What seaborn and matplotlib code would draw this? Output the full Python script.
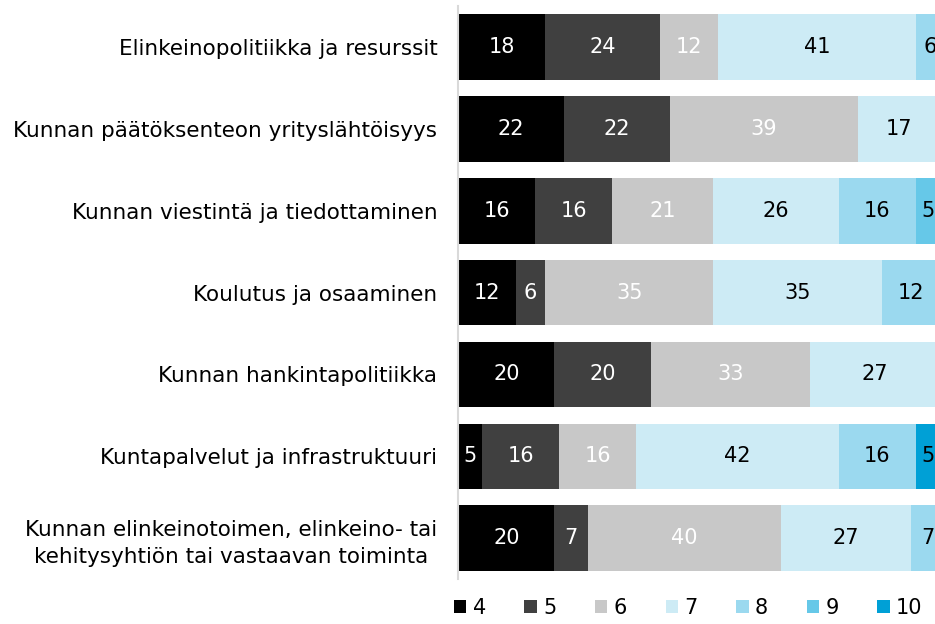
import pandas as pd
import matplotlib.pyplot as plt
import seaborn as sns
from matplotlib.patches import Patch

sns.set_theme(style='white')
plt.rcParams['font.family'] = ['DejaVu Sans']

# Data
rows = [
    'Elinkeinopolitiikka ja resurssit',
    'Kunnan päätöksenteon yrityslähtöisyys',
    'Kunnan viestintä ja tiedottaminen',
    'Koulutus ja osaaminen',
    'Kunnan hankintapolitiikka',
    'Kuntapalvelut ja infrastruktuuri',
    'Kunnan elinkeinotoimen, elinkeino- tai\nkehitysyhtiön tai vastaavan toiminta',
]
scores = ['4', '5', '6', '7', '8', '9', '10']
v4 = [18, 22, 16, 12, 20, 5, 20]
v5 = [24, 22, 16, 6, 20, 16, 7]
v6 = [12, 39, 21, 35, 33, 16, 40]
v7 = [41, 17, 26, 35, 27, 42, 27]
v8 = [6, 0, 16, 12, 0, 16, 7]
v9 = [0, 0, 5, 0, 0, 0, 0]
v10 = [0, 0, 0, 0, 0, 5, 0]
colors = ['#000000', '#404040', '#c8c8c8', '#cdebf5', '#9bd9ef', '#66c8e8', '#00a0d6']
text_colors = ['white', 'white', 'white', 'black', 'black', 'black', 'black']

values = pd.DataFrame([v4, v5, v6, v7, v8, v9, v10], index=scores, columns=rows).T
cum = values.cumsum(axis=1)

fig = plt.figure(figsize=(9.35, 6.24), dpi=100)
ax = fig.add_axes([0.49, 0.072, 0.51, 0.918])

# stacked bars: draw cumulative totals from the last score to the first
for i in range(len(scores) - 1, -1, -1):
    d = pd.DataFrame({'row': rows, 'cum': cum[scores[i]].values})
    sns.barplot(data=d, x='cum', y='row', color=colors[i], orient='h',
                width=0.8, saturation=1, linewidth=0, ax=ax)

# value labels
for r, name in enumerate(rows):
    for i, s in enumerate(scores):
        v = values.loc[name, s]
        if v <= 0:
            continue
        center = cum.loc[name, s] - v / 2
        ax.text(center, r, str(v), ha='center', va='center',
                color=text_colors[i], fontsize=15)

ax.set_xlim(0, 99)
ax.set_ylim(6.5, -0.5)
ax.set_xlabel('')
ax.set_ylabel('')
ax.set_xticks([])
ax.tick_params(axis='y', length=0, pad=15, labelsize=15.5, labelcolor='black')
for lbl in ax.get_yticklabels():
    lbl.set_horizontalalignment('right')
    lbl.set_multialignment('center')
    lbl.set_linespacing(1.45)
for side in ['top', 'right', 'bottom']:
    ax.spines[side].set_visible(False)
ax.spines['left'].set_color('#d9d9d9')
ax.spines['left'].set_linewidth(1.5)

handles = [Patch(facecolor=c, edgecolor='none') for c in colors]
fig.legend(handles, scores, loc='center', bbox_to_anchor=(0.736, 0.026), ncol=7,
           frameon=False, fontsize=15, handlelength=0.6, handleheight=0.6,
           handletextpad=0.3, columnspacing=1.85, labelcolor='black')

fig.savefig('out.png', dpi=100)
